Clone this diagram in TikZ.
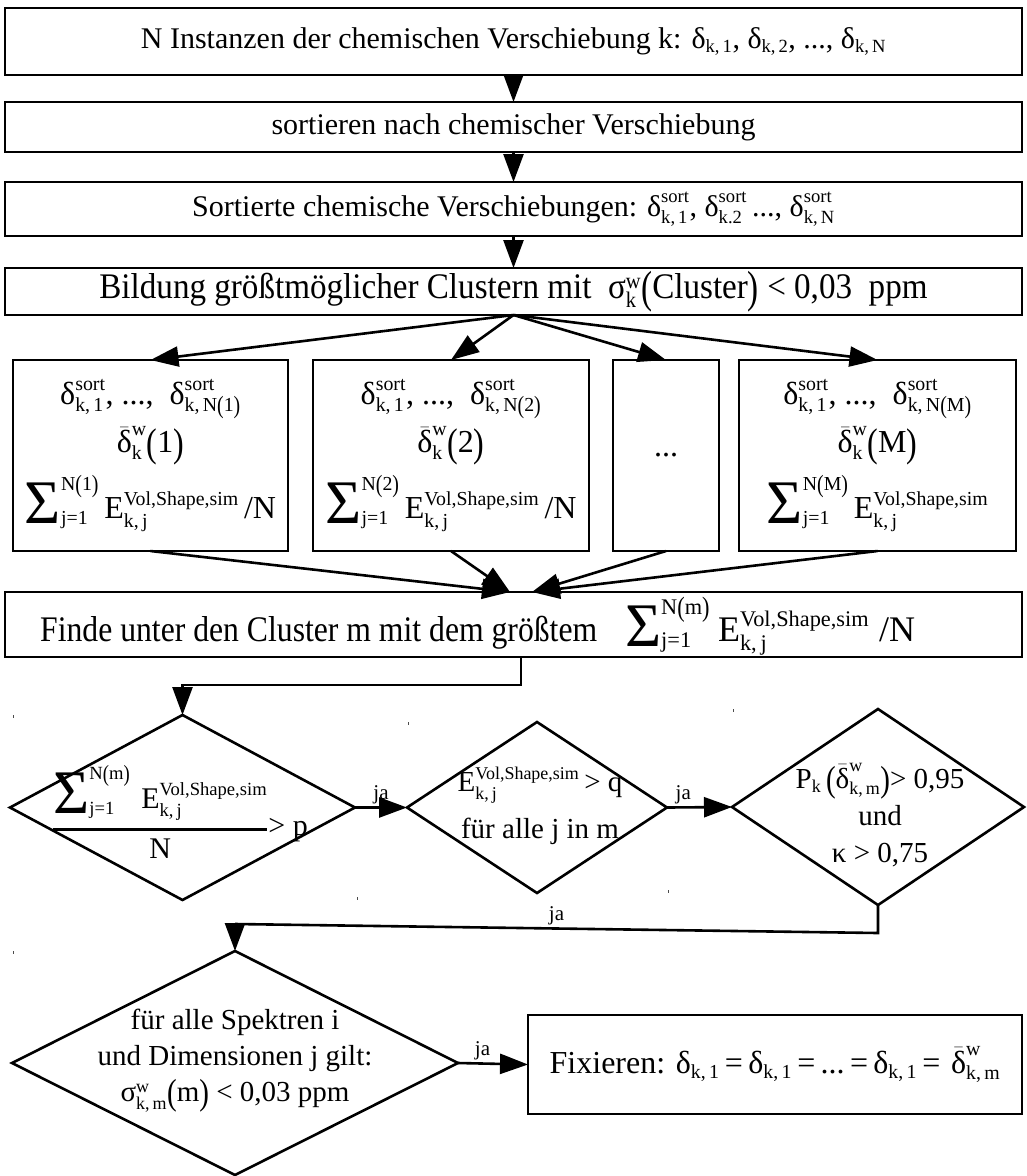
\documentclass[tikz,border=0pt]{standalone}
\usepackage{amsmath}
\usepackage{graphicx}
\usepackage{fontspec}
\setmainfont{Liberation Serif}
\usetikzlibrary{arrows.meta,shapes.geometric,calc}

% smaller indices than the default
\renewcommand{\defaultscriptratio}{.62}
\renewcommand{\defaultscriptscriptratio}{.45}

% symbol with subscript / with super- and subscript / barred symbol
\newcommand{\Tsb}[2]{\ensuremath{\text{#1}_{\text{#2}}}}
\newcommand{\Tss}[3]{\ensuremath{\text{#1}^{\text{#2}}_{\text{#3}}}}
\newcommand{\Tbar}[3]{\ensuremath{\bar{\text{#1}}^{\text{#2}}_{\text{#3}}}}
% tall parentheses
\newcommand{\Par}[1]{\raisebox{-0.1em}{\scalebox{1}[1.25]{(}}#1\raisebox{-0.1em}{\scalebox{1}[1.25]{)}}}
% large sum sign with limits at the side
\newcommand{\Bsum}[2]{\ensuremath{\mathop{\raisebox{-5pt}{\fontsize{62}{62}\selectfont Σ}}\nolimits_{\text{#1}}^{\text{#2}}}}
\newcommand{\Evs}{\Tss{E}{Vol,Shape,sim}{k,\,j}}

\tikzset{
  box/.style={draw, line width=2.6pt, inner sep=0pt, outer sep=0pt,
              font=\fontsize{30}{36}\selectfont},
  clbox/.style={box, minimum height=191, align=center,
              font=\fontsize{32}{48}\selectfont},
  dia/.style={draw, diamond, line width=2.6pt, inner sep=0pt, outer sep=0pt},
  dtext/.style={align=center, inner sep=0pt},
  arr/.style={line width=2.6pt, -{Triangle[length=28pt,width=20pt]}},
  lbl/.style={font=\fontsize{21}{24}\selectfont, inner sep=2pt},
  tick/.style={line width=0.8pt, black!70},
}

\begin{document}
\begin{tikzpicture}[x=1pt,y=-1pt]
\useasboundingbox (0,0) rectangle (1027,1176);

% main column of process boxes
\node[box, minimum width=1017, minimum height=67] (b1) at (513.5,41.5)
  {N Instanzen der chemischen Verschiebung k: \Tsb{δ}{k,\,1}, \Tsb{δ}{k,\,2}, ..., \Tsb{δ}{k,\,N}};
\node[box, minimum width=1017, minimum height=50] (b2) at (513.5,127)
  {sortieren nach chemischer Verschiebung};
\node[box, minimum width=1017, minimum height=54] (b3) at (513.5,209)
  {Sortierte chemische Verschiebungen: \Tss{δ}{sort}{k,\,1}, \Tss{δ}{sort}{k.2}\,..., \Tss{δ}{sort}{k,\,N}};
\node[box, minimum width=1017, minimum height=47, font=\fontsize{36}{40}\selectfont] (b4) at (513.5,291.5)
  {\scalebox{0.92}[1]{Bildung größtmöglicher Clustern mit \ \Tss{σ}{w}{k}\Par{Cluster} < 0,03 \ ppm}};

% clusters
\node[clbox, minimum width=275] (c1) at (150.5,455.5)
  {\Tss{δ}{sort}{k,\,1}, ..., \ \Tss{δ}{sort}{k,\,N\Par{1}}\\
   \Tbar{δ}{w}{k}\Par{1}\\[10pt]
   \Bsum{j=1}{N\Par{1}}\,\Evs\,/N};
\node[clbox, minimum width=276] (c2) at (451,455.5)
  {\Tss{δ}{sort}{k,\,1}, ..., \ \Tss{δ}{sort}{k,\,N\Par{2}}\\
   \Tbar{δ}{w}{k}\Par{2}\\[10pt]
   \Bsum{j=1}{N\Par{2}}\,\Evs\,/N};
\node[clbox, minimum width=106] (c3) at (666,455.5) {...};
\node[clbox, minimum width=277] (cM) at (877.5,455.5)
  {\Tss{δ}{sort}{k,\,1}, ..., \ \Tss{δ}{sort}{k,\,N\Par{M}}\\
   \Tbar{δ}{w}{k}\Par{M}\\[10pt]
   \Bsum{j=1}{N\Par{M}}\,\Evs};

\node[box, minimum width=1017, minimum height=65] (b5) at (513.5,624.5) {};
\node[inner sep=0pt, anchor=west, font=\fontsize{36}{40}\selectfont] (t5) at (40,626)
  {\scalebox{0.88}[1]{Finde unter den Cluster m mit dem größtem}\hspace{28pt}%
   \Bsum{j=1}{N\Par{m}}\hspace{8pt}\Evs\hspace{10pt}/N};

% decisions
\node[dia, minimum width=345, minimum height=185] (d1) at (182.5,807.5) {};
\node[dia, minimum width=260, minimum height=171] (d2) at (537,807.5) {};
\node[dia, minimum width=292, minimum height=196] (d3) at (878,807) {};
\node[dia, minimum width=446, minimum height=224] (d4) at (235,1063) {};

\node[dtext, font=\fontsize{30}{36}\selectfont] (t1) at (180,812)
  {$\genfrac{}{}{2.6pt}{0}{\Bsum{j=1}{N\Par{m}}\;\Evs}{\text{N}}\text{> p}$};
\node[dtext, font=\fontsize{29}{47}\selectfont] (t2) at (540,806)
  {\Evs\,> q\\für alle j in m};
\node[dtext, font=\fontsize{29}{37}\selectfont] (t3) at (880,815)
  {\Tsb{P}{k}\,\Par{\Tbar{δ}{w}{k,\,m}}> 0,95\\und\\κ > 0,75};
\node[dtext, font=\fontsize{29}{36}\selectfont] (t4) at (235,1061)
  {für alle Spektren i\\und Dimensionen j gilt:\\\Tss{σ}{w}{k,\,m}\Par{m} < 0,03 ppm};

% final step
\node[box, minimum width=494, minimum height=99, font=\fontsize{32}{36}\selectfont] (fin) at (775,1064.5)
  {Fixieren: \Tsb{δ}{k,\,1}\,=\,\Tsb{δ}{k,\,1}\,=\,...\,=\,\Tsb{δ}{k,\,1}\,=\,\,\Tbar{δ}{w}{k,\,m}};

% connectors
\draw[arr] (b1) -- (b2);
\draw[arr] (b2) -- (b3);
\draw[arr] (b3) -- (b4);
\foreach \c in {c1,c2,c3,cM} \draw[arr] (b4.south) -- (\c.north);

\coordinate (m5a) at (510,592);
\coordinate (m5b) at (532,592);
\draw[arr] (c1.south) -- (m5a);
\draw[arr] (c2.south) -- (m5a);
\draw[arr] (c3.south) -- (m5b);
\draw[arr] (cM.south) -- (m5b);

\coordinate (k1) at (521,685);
\draw[arr] (b5.south -| k1) -- (k1) -| (d1.north);

\draw[arr] (d1.east) -- node[lbl, above] (ja1) {ja} (d2.west);
\draw[arr] (d2.east) -- node[lbl, above, pos=0.25] (ja2) {ja} (d3.west);

\coordinate (k2) at (878,933);
\coordinate (k3) at (235,924);
\draw[arr] (d3.south) -- (k2) -- node[lbl, above, pos=0.5] (ja3) {ja} (k3) -- (d4.north);
\draw[arr] (d4.east) -- node[lbl, above, pos=0.35] (ja4) {ja} (fin.west);

% small corner marks of the decision frames
\draw[tick] ($(d1.west |- d1.north)+(3,0)$) -- ++(0,3);
\draw[tick] ($(d1.east |- d1.south)+(2,-3)$) -- ++(0,3);
\draw[tick] ($(d2.west |- d2.north)+(1,0)$) -- ++(0,3);
\draw[tick] ($(d2.east |- d2.south)+(1,-3)$) -- ++(0,3);
\draw[tick] ($(d3.west |- d3.north)+(1,0)$) -- ++(0,3);
\draw[tick] ($(d4.west |- d4.north)+(1,0)$) -- ++(0,3);
\end{tikzpicture}
\end{document}
